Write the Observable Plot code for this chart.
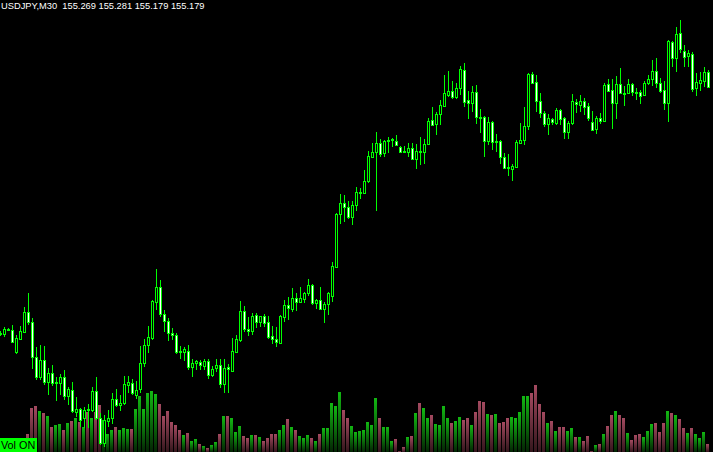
<!DOCTYPE html>
<html>
<head>
<meta charset="utf-8">
<script src="https://cdn.jsdelivr.net/npm/d3@7"></script>
<script src="https://cdn.jsdelivr.net/npm/@observablehq/plot@0.6"></script>
<style>
html, body { margin: 0; padding: 0; background: #000; overflow: hidden; }
#wrap { position: relative; width: 713px; height: 452px; overflow: hidden; background: #000; }
.hdr { position: absolute; left: 1px; top: 1px; color: #fff; font: 9.3px "Liberation Sans", Arial, sans-serif; white-space: pre; }
.volon { position: absolute; left: 0; top: 438px; width: 37px; height: 14px; background: #00ff00; color: #000;
  font: 10.8px "Liberation Sans", Arial, sans-serif; line-height: 15px; padding-left: 1px; box-sizing: border-box; white-space: pre; }
</style>
</head>
<body>
<div id="wrap"></div>
<script>
const symbol = "USDJPY";
const timeframe = "M30";
const volumeLabel = "Vol ON";

const open = [
153.702,153.696,153.720,153.720,153.588,153.666,153.708,153.828,153.768,153.558,
153.438,153.540,153.408,153.462,153.402,153.402,153.438,153.324,153.360,153.228,
153.246,153.192,153.246,153.240,153.354,153.192,153.042,153.174,153.192,153.306,
153.270,153.282,153.390,153.402,153.330,153.366,153.522,153.630,153.672,153.888,
153.978,153.816,153.774,153.702,153.690,153.594,153.588,153.594,153.498,153.522,
153.528,153.504,153.534,153.450,153.492,153.510,153.396,153.498,153.474,153.588,
153.660,153.834,153.726,153.714,153.810,153.768,153.804,153.768,153.684,153.666,
153.642,153.798,153.870,153.846,153.912,153.888,153.906,153.942,153.990,153.882,
153.900,153.846,153.876,153.924,154.098,154.416,154.482,154.458,154.398,154.470,
154.542,154.542,154.614,154.758,154.788,154.842,154.782,154.854,154.860,154.854,
154.818,154.794,154.788,154.812,154.746,154.794,154.788,154.836,154.980,154.956,
155.016,155.064,155.130,155.154,155.118,155.172,155.280,155.100,155.082,155.148,
154.998,154.998,154.854,154.968,154.848,154.854,154.758,154.698,154.686,154.698,
154.842,154.860,154.944,155.256,155.208,155.094,155.022,154.956,154.986,154.962,
155.040,154.992,154.908,154.962,155.088,155.070,155.094,155.064,154.968,154.926,
154.992,154.974,155.196,155.160,155.082,155.196,155.142,155.142,155.196,155.148,
155.148,155.130,155.202,155.226,155.274,155.202,155.160,155.082,155.448,155.352,
155.502,155.394,155.364,155.376,155.172,155.202,155.214,155.269];

const high = [
153.714,153.738,153.732,153.750,153.690,153.744,153.858,153.942,153.792,153.618,
153.630,153.624,153.492,153.510,153.438,153.456,153.480,153.378,153.408,153.318,
153.252,153.258,153.276,153.378,153.438,153.222,153.210,153.240,153.342,153.366,
153.330,153.444,153.444,153.426,153.414,153.624,153.666,153.744,153.900,154.086,
154.020,153.840,153.792,153.732,153.702,153.624,153.618,153.630,153.546,153.540,
153.540,153.546,153.546,153.504,153.546,153.546,153.546,153.516,153.672,153.690,
153.894,153.864,153.798,153.822,153.822,153.804,153.816,153.804,153.744,153.738,
153.810,153.900,153.918,153.972,153.942,153.978,153.948,154.026,153.996,153.906,
153.978,153.888,153.948,154.128,154.422,154.536,154.530,154.494,154.494,154.578,
154.572,154.680,154.794,154.842,154.908,154.866,154.860,154.878,154.872,154.890,
154.824,154.824,154.842,154.842,154.836,154.878,154.866,154.992,155.058,155.028,
155.100,155.250,155.274,155.214,155.202,155.304,155.322,155.154,155.184,155.190,
155.046,155.004,154.998,154.974,154.896,154.860,154.782,154.776,154.716,154.860,
154.962,155.058,155.262,155.268,155.250,155.142,155.034,155.016,154.992,155.052,
155.046,154.998,154.974,155.136,155.106,155.130,155.112,155.082,155.034,155.004,
155.022,155.202,155.226,155.226,155.244,155.292,155.184,155.226,155.202,155.172,
155.160,155.214,155.250,155.340,155.352,155.232,155.214,155.460,155.454,155.538,
155.580,155.430,155.400,155.388,155.262,155.268,155.298,155.281];

const low = [
153.684,153.678,153.714,153.642,153.576,153.660,153.702,153.750,153.486,153.420,
153.420,153.390,153.330,153.384,153.294,153.330,153.300,153.270,153.222,153.198,
153.138,153.132,153.132,153.228,153.180,153.030,153.018,153.138,153.156,153.258,
153.234,153.270,153.342,153.330,153.306,153.342,153.498,153.582,153.660,153.840,
153.798,153.708,153.654,153.660,153.576,153.546,153.534,153.480,153.438,153.480,
153.480,153.480,153.426,153.438,153.468,153.372,153.342,153.342,153.468,153.582,
153.648,153.708,153.684,153.690,153.732,153.738,153.738,153.666,153.636,153.618,
153.636,153.768,153.780,153.828,153.834,153.882,153.882,153.924,153.870,153.846,
153.840,153.762,153.810,153.888,154.092,154.356,154.368,154.386,154.350,154.434,
154.506,154.536,154.602,154.752,154.434,154.758,154.758,154.782,154.818,154.824,
154.782,154.782,154.758,154.740,154.686,154.710,154.716,154.830,154.944,154.890,
154.950,155.058,155.118,155.106,155.106,155.130,155.058,154.986,155.028,154.956,
154.902,154.758,154.830,154.800,154.788,154.716,154.686,154.644,154.614,154.692,
154.836,154.830,154.920,155.196,155.028,154.992,154.938,154.890,154.950,154.950,
154.950,154.866,154.866,154.950,155.022,155.028,155.010,154.974,154.914,154.896,
154.956,154.968,155.148,154.926,154.986,155.136,155.064,155.136,155.124,155.100,
155.076,155.124,155.190,155.184,155.172,155.142,155.040,154.968,155.298,155.268,
155.382,155.298,155.298,155.148,155.124,155.154,155.178,155.179];

const close = [
153.696,153.726,153.726,153.648,153.672,153.714,153.828,153.768,153.558,153.438,
153.540,153.408,153.462,153.402,153.408,153.438,153.324,153.366,153.234,153.246,
153.180,153.240,153.240,153.354,153.192,153.042,153.180,153.192,153.306,153.270,
153.282,153.396,153.408,153.342,153.360,153.522,153.630,153.678,153.894,153.978,
153.816,153.774,153.702,153.690,153.588,153.588,153.606,153.498,153.522,153.534,
153.510,153.534,153.450,153.486,153.510,153.396,153.492,153.486,153.594,153.666,
153.834,153.726,153.714,153.804,153.768,153.804,153.762,153.678,153.666,153.648,
153.804,153.870,153.852,153.912,153.888,153.912,153.942,153.990,153.882,153.900,
153.846,153.876,153.942,154.104,154.416,154.482,154.458,154.398,154.470,154.548,
154.548,154.614,154.764,154.788,154.842,154.776,154.854,154.860,154.866,154.830,
154.788,154.788,154.812,154.746,154.794,154.788,154.836,154.974,154.950,155.016,
155.070,155.142,155.154,155.118,155.172,155.286,155.088,155.082,155.148,154.998,
154.992,154.854,154.968,154.848,154.854,154.758,154.692,154.692,154.704,154.848,
154.860,154.944,155.256,155.202,155.094,155.022,154.956,154.992,154.968,155.040,
154.986,154.908,154.962,155.094,155.076,155.094,155.058,154.992,154.920,154.992,
154.974,155.190,155.154,155.082,155.196,155.142,155.136,155.196,155.148,155.142,
155.124,155.202,155.226,155.274,155.202,155.154,155.082,155.454,155.352,155.496,
155.406,155.358,155.382,155.166,155.208,155.220,155.268,155.179];

const volume = [
240,220,180,240,220,200,240,360,880,920,
820,780,720,500,540,560,440,580,620,680,
600,500,800,680,800,940,640,360,440,500,
440,480,460,460,860,1120,860,1180,1220,1160,
960,720,820,600,540,440,340,380,220,260,
160,120,80,140,200,360,720,720,680,400,
520,320,280,340,340,300,220,280,360,360,
440,540,660,500,440,320,280,340,280,220,
360,480,480,980,920,1200,840,680,520,400,
420,440,600,540,1080,680,500,500,220,260,
20,100,300,320,780,980,880,680,740,560,
540,920,680,580,620,700,640,680,540,800,
1020,1000,760,740,760,580,600,680,700,680,
800,1120,1120,1180,1340,960,800,580,620,420,
500,500,420,480,300,300,220,320,20,140,
160,360,520,740,820,740,680,380,240,340,
360,300,420,560,580,400,580,820,780,740,
660,480,380,480,360,280,400,160];

const bars = open.map((o, i) => ({
  i, open: o, high: high[i], low: low[i], close: close[i], volume: volume[i], up: close[i] >= o
}));
const upBars = bars.filter(d => d.up);
const downBars = bars.filter(d => !d.up);

const GREEN = "#00ff00";
const xDomain = [0, 178.25];
const wrap = document.getElementById("wrap");

const gradients = () => {
  const defs = d3.create("svg:defs");
  const gu = defs.append("linearGradient").attr("id", "volUp").attr("x1", 0).attr("y1", 0).attr("x2", 0).attr("y2", 1);
  gu.append("stop").attr("offset", "0%").attr("stop-color", "#12b812");
  gu.append("stop").attr("offset", "100%").attr("stop-color", "#042404");
  const gd = defs.append("linearGradient").attr("id", "volDown").attr("x1", 0).attr("y1", 0).attr("x2", 0).attr("y2", 1);
  gd.append("stop").attr("offset", "0%").attr("stop-color", "#a44a60");
  gd.append("stop").attr("offset", "100%").attr("stop-color", "#34161c");
  return defs.node();
};

const volPlot = Plot.plot({
  width: 713, height: 72, margin: 0,
  style: {background: "#000", position: "absolute", left: "0px", top: "380px"},
  x: {domain: xDomain, axis: null},
  y: {domain: [0, 1440], axis: null, round: true},
  marks: [
    gradients,
    Plot.rect(upBars, {x1: d => d.i - 0.5, x2: d => d.i + 0.25, y1: 0, y2: "volume", fill: "url(#volUp)"}),
    Plot.rect(downBars, {x1: d => d.i - 0.5, x2: d => d.i + 0.25, y1: 0, y2: "volume", fill: "url(#volDown)"})
  ]
});

const pricePlot = Plot.plot({
  width: 713, height: 452, margin: 0,
  style: {background: "transparent", position: "absolute", left: "0px", top: "0px"},
  x: {domain: xDomain, axis: null},
  y: {domain: [152.988, 155.7], axis: null, round: true},
  marks: [
    Plot.ruleX(bars, {x: "i", y1: "low", y2: "high", stroke: GREEN, strokeWidth: 1}),
    Plot.rect(upBars, {x1: d => d.i - 0.125, x2: d => d.i + 0.375, y1: "open", y2: "close", dy: 0.5,
      fill: "#000", stroke: GREEN, strokeWidth: 1}),
    Plot.rect(downBars, {x1: d => d.i - 0.125, x2: d => d.i + 0.375, y1: "open", y2: "close", dy: 0.5,
      fill: "#fff", stroke: GREEN, strokeWidth: 1}),
    Plot.ruleY(bars, {y: "open", x1: d => d.i - 0.25, x2: d => d.i + 0.5, stroke: GREEN, strokeWidth: 1}),
    Plot.ruleY(bars, {y: "close", x1: d => d.i - 0.25, x2: d => d.i + 0.5, stroke: GREEN, strokeWidth: 1})
  ]
});

wrap.appendChild(volPlot);
wrap.appendChild(pricePlot);

const n = bars.length - 1;
const f3 = d3.format(".3f");
const hdr = document.createElement("div");
hdr.className = "hdr";
hdr.textContent = `${symbol},${timeframe}  ${f3(open[n])} ${f3(high[n])} ${f3(low[n])} ${f3(close[n])}`;
wrap.appendChild(hdr);

const vl = document.createElement("div");
vl.className = "volon";
vl.textContent = volumeLabel;
wrap.appendChild(vl);
</script>
</body>
</html>
